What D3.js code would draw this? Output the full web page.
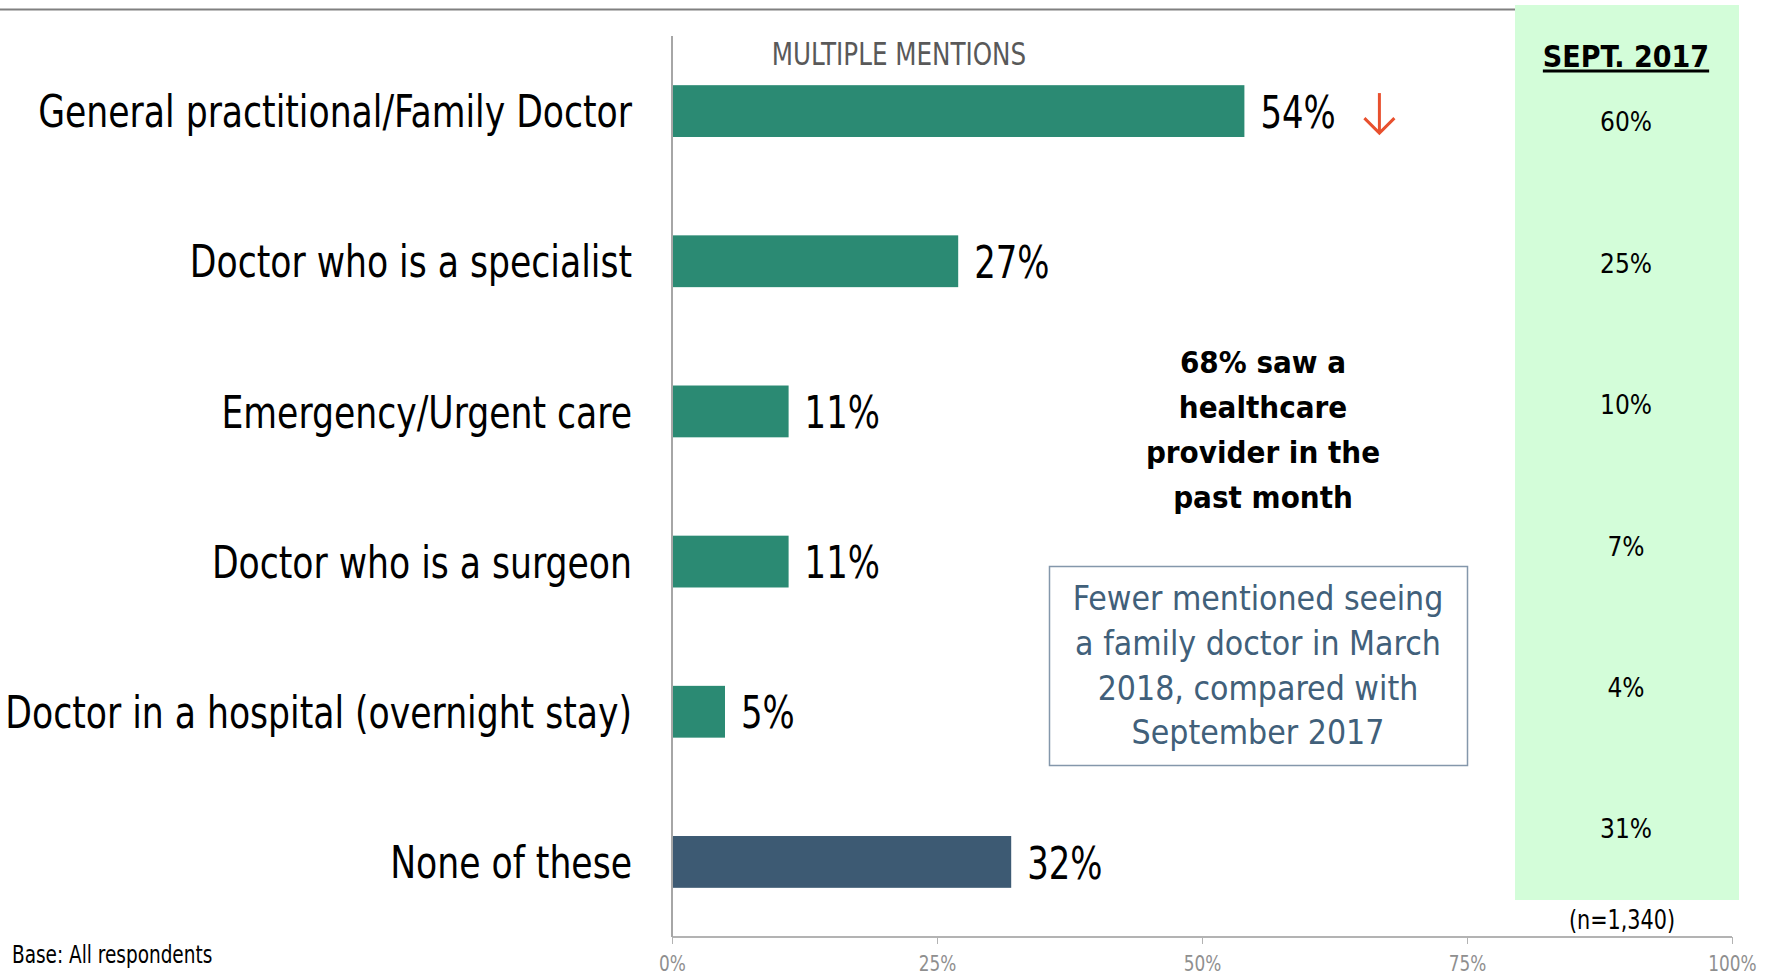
<!DOCTYPE html>
<html>
<head>
<meta charset="utf-8">
<script src="https://cdn.jsdelivr.net/npm/d3@7"></script>
<style>
  html, body { margin: 0; padding: 0; background: #ffffff; }
  svg { display: block; }
  .narrow { font-family: "Liberation Sans Narrow", "Arial Narrow", "DejaVu Sans Condensed", sans-serif; }
</style>
</head>
<body>
<svg id="chart" width="1775" height="975"></svg>
<script>
// ---------------- data ----------------
const categories = [
  "General practitional/Family Doctor",
  "Doctor who is a specialist",
  "Emergency/Urgent care",
  "Doctor who is a surgeon",
  "Doctor in a hospital (overnight stay)",
  "None of these"
];
const march2018 = [54, 27, 11, 11, 5, 32];
const sept2017 = [60, 25, 10, 7, 4, 31];
const tickValues = [0, 25, 50, 75, 100];
const significantDown = ["General practitional/Family Doctor"];
const sideHeader = "SEPT. 2017";
const sampleNote = "(n=1,340)";
const topNote = "MULTIPLE MENTIONS";
const baseNote = "Base: All respondents";
const calloutBold = ["68% saw a", "healthcare", "provider in the", "past month"];
const calloutBox = ["Fewer mentioned seeing", "a family doctor in March", "2018, compared with", "September 2017"];

// ---------------- layout ----------------
const W = 1775, H = 975;
const svg = d3.select("#chart");
const plot = { left: 672, right: 1732, top: 36, bottom: 937 };

const x = d3.scaleLinear().domain([0, 100]).range([plot.left, plot.right]);
const y = d3.scaleBand().domain(categories).range([plot.top, plot.bottom])
  .paddingInner(0.655).paddingOuter(0.3275);
const ySide = d3.scalePoint().domain(categories).range([122, 829]);

const teal = "#2b8a73", navy = "#3d5a73";

// top rule
svg.append("line").attr("x1", 0).attr("x2", 1515).attr("y1", 9.5).attr("y2", 9.5)
  .attr("stroke", "#808080").attr("stroke-width", 2);

// green side panel
svg.append("rect").attr("x", 1515).attr("y", 5).attr("width", 224).attr("height", 895)
  .attr("fill", "#d3fdd9");

// axis (bottom)
const axisG = svg.append("g").attr("transform", `translate(0,${plot.bottom})`)
  .call(d3.axisBottom(x).tickValues(tickValues).tickFormat(d => d + "%").tickSize(7).tickPadding(11));
axisG.select(".domain").attr("stroke", "#b3b3b3").attr("stroke-width", 2).attr("d", `M${plot.left},0H${plot.right}`);
axisG.selectAll(".tick line").attr("stroke", "#b3b3b3").attr("stroke-width", 1);
axisG.selectAll(".tick text").attr("class", "narrow").attr("font-size", 22).attr("fill", "#8f8f8f");

// vertical category axis line
svg.append("line").attr("x1", plot.left).attr("x2", plot.left).attr("y1", plot.top).attr("y2", plot.bottom)
  .attr("stroke", "#a6a6a6").attr("stroke-width", 2);

// bars
svg.append("g").selectAll("rect").data(categories).join("rect")
  .attr("x", x(0) + 1)
  .attr("y", d => y(d))
  .attr("width", (d, i) => x(march2018[i]) - x(0) - 1)
  .attr("height", y.bandwidth())
  .attr("fill", d => d === "None of these" ? navy : teal);

// category labels
const catLabels = svg.append("g").selectAll("text").data(categories).join("text")
  .attr("class", "narrow")
  .attr("x", plot.left - 40)
  .attr("y", d => y(d) + y.bandwidth() / 2)
  .attr("dy", "0.36em")
  .attr("text-anchor", "end")
  .attr("font-size", 45)
  .attr("fill", "#000")
  .text(d => d);

// value labels
const valLabels = svg.append("g").selectAll("text").data(categories).join("text")
  .attr("class", "narrow")
  .attr("x", (d, i) => x(march2018[i]) + 16)
  .attr("y", d => y(d) + y.bandwidth() / 2)
  .attr("dy", "0.38em")
  .attr("font-size", 44)
  .attr("fill", "#000")
  .text((d, i) => march2018[i] + "%");

// significance arrows
significantDown.forEach(c => {
  const i = categories.indexOf(c);
  const cx = x(march2018[i]) + 135;
  const cy = y(c) + y.bandwidth() / 2;
  const g = svg.append("g").attr("stroke", "#e8502e").attr("stroke-width", 3).attr("fill", "none");
  g.append("line").attr("x1", cx).attr("x2", cx).attr("y1", cy - 18).attr("y2", cy + 22);
  g.append("path").attr("d", `M${cx - 15},${cy + 7}L${cx},${cy + 22}L${cx + 15},${cy + 7}`);
});

// multiple mentions note
svg.append("text").attr("class", "narrow").attr("x", 899).attr("y", 53).attr("dy", "0.36em")
  .attr("text-anchor", "middle").attr("font-size", 32).attr("fill", "#595959").text(topNote);

// side header
const hdr = svg.append("text").attr("x", 1626).attr("y", 67).attr("text-anchor", "middle")
  .attr("font-family", "'DejaVu Sans Condensed', 'DejaVu Sans', sans-serif").attr("font-weight", "bold")
  .attr("font-size", 30).attr("fill", "#000").text(sideHeader);
const hb = hdr.node().getBBox();
svg.append("line").attr("x1", hb.x).attr("x2", hb.x + hb.width).attr("y1", 71).attr("y2", 71)
  .attr("stroke", "#000").attr("stroke-width", 3);

// side values
svg.append("g").selectAll("text").data(categories).join("text")
  .attr("x", 1626)
  .attr("y", d => ySide(d))
  .attr("dy", "0.36em")
  .attr("text-anchor", "middle")
  .attr("font-family", "'DejaVu Sans Condensed', 'DejaVu Sans', sans-serif")
  .attr("font-size", 26)
  .attr("fill", "#000")
  .text((d, i) => sept2017[i] + "%");

// sample note
svg.append("text").attr("class", "narrow").attr("x", 1622).attr("y", 919).attr("dy", "0.36em")
  .attr("text-anchor", "middle").attr("font-size", 27).attr("fill", "#000").text(sampleNote);

// base note
svg.append("text").attr("class", "narrow").attr("x", 12).attr("y", 954).attr("dy", "0.36em")
  .attr("font-size", 24).attr("fill", "#000").text(baseNote);

// bold callout
svg.append("g").selectAll("text").data(calloutBold).join("text")
  .attr("x", 1263)
  .attr("y", (d, i) => 362 + i * 45)
  .attr("dy", "0.36em")
  .attr("text-anchor", "middle")
  .attr("font-family", "'DejaVu Sans Condensed', 'DejaVu Sans', sans-serif")
  .attr("font-weight", "bold")
  .attr("font-size", 31)
  .attr("fill", "#000")
  .text(d => d);

// boxed callout
svg.append("rect").attr("x", 1049.5).attr("y", 566.5).attr("width", 418).attr("height", 199)
  .attr("fill", "#fff").attr("stroke", "#8497ab").attr("stroke-width", 1.5);
svg.append("g").selectAll("text").data(calloutBox).join("text")
  .attr("x", 1258)
  .attr("y", (d, i) => 598 + i * 44.8)
  .attr("dy", "0.36em")
  .attr("text-anchor", "middle")
  .attr("font-family", "'DejaVu Sans Condensed', 'DejaVu Sans', sans-serif")
  .attr("font-size", 33.5)
  .attr("fill", "#41607a")
  .text(d => d);

// condense the "narrow" face uniformly so the category labels span about the reference width
const nodes = catLabels.nodes();
const k = (601 / nodes[0].getComputedTextLength() + 619 / nodes[4].getComputedTextLength()) / 2;
if (k < 0.98) {
  svg.selectAll("text.narrow").each(function () {
    const w = this.getComputedTextLength();
    d3.select(this).attr("textLength", w * k).attr("lengthAdjust", "spacingAndGlyphs");
  });
}
</script>
</body>
</html>
